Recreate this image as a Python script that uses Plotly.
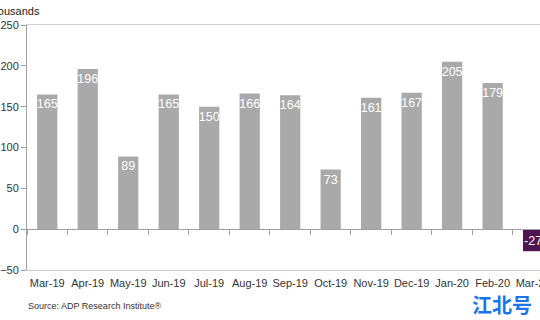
import plotly.graph_objects as go

months = ["Mar-19", "Apr-19", "May-19", "Jun-19", "Jul-19", "Aug-19", "Sep-19",
          "Oct-19", "Nov-19", "Dec-19", "Jan-20", "Feb-20", "Mar-20"]
jobs = [165, 196, 89, 165, 150, 166, 164, 73, 161, 167, 205, 179, -27]
y_ticks = [-50, 0, 50, 100, 150, 200, 250]

gray = "#a9a9a9"
purple = "#4e1650"
colors = [purple if v < 0 else gray for v in jobs]

fig = go.Figure()
fig.add_trace(go.Bar(
    x=months, y=jobs, marker=dict(color=colors, line=dict(width=0)),
    width=0.5, text=[str(v) for v in jobs], textposition="inside",
    insidetextanchor="end", textangle=0, constraintext="none",
    textfont=dict(family="Liberation Sans, Arial", size=12.5, color="white"),
    cliponaxis=False, xaxis="x", yaxis="y",
))
# invisible trace for second x-axis (zero line with boundary ticks)
fig.add_trace(go.Bar(x=months, y=[0] * len(months), xaxis="x2", yaxis="y",
                     showlegend=False, hoverinfo="skip", marker=dict(opacity=0)))

fig.update_layout(
    width=540, height=320,
    margin=dict(l=27, r=0, t=25, b=50),
    paper_bgcolor="white", plot_bgcolor="white",
    showlegend=False, bargap=0.5,
    uniformtext=dict(minsize=12.5, mode="show"),
    font=dict(family="Liberation Sans, Arial", color="#333333", size=11),
    xaxis=dict(
        range=[-0.5, 12.17], showline=True, mirror=True, linecolor="#cfcfcf",
        linewidth=1, ticks="", showgrid=False, automargin=False,
        tickfont=dict(size=11, color="#333333"), ticklabelstandoff=3,
        fixedrange=True,
    ),
    xaxis2=dict(
        matches="x", overlaying="x", anchor="free", position=1 / 6,
        showline=True, linecolor="#a0a0a0", linewidth=1,
        ticks="outside", tickson="boundaries", ticklen=5, tickcolor="#a0a0a0",
        showticklabels=False, showgrid=False,
    ),
    yaxis=dict(
        range=[-50, 250], tickvals=y_ticks, showline=True, linecolor="#a0a0a0",
        linewidth=1, ticks="outside", ticklen=5, tickcolor="#a0a0a0",
        showgrid=False, zeroline=False, automargin=False,
        tickfont=dict(size=11, color="#333333"),
    ),
    annotations=[
        dict(text="Thousands", xref="paper", yref="paper", x=0.03, y=1.0,
             xanchor="right", yanchor="bottom", yshift=6, showarrow=False,
             font=dict(size=11, color="#222222")),
        dict(text="Source: ADP Research Institute®", xref="paper", yref="paper",
             x=-0.002, y=0, xanchor="left", yanchor="top", yshift=-29,
             showarrow=False, font=dict(size=9, color="#333333")),
        dict(text="<b>江北号</b>", xref="paper", yref="paper", x=0.988, y=0,
             xanchor="right", yanchor="top", yshift=-18, showarrow=False,
             font=dict(family="Noto Sans CJK SC", size=20, color="#1a73e8")),
    ],
)

fig.write_html("out.html")
